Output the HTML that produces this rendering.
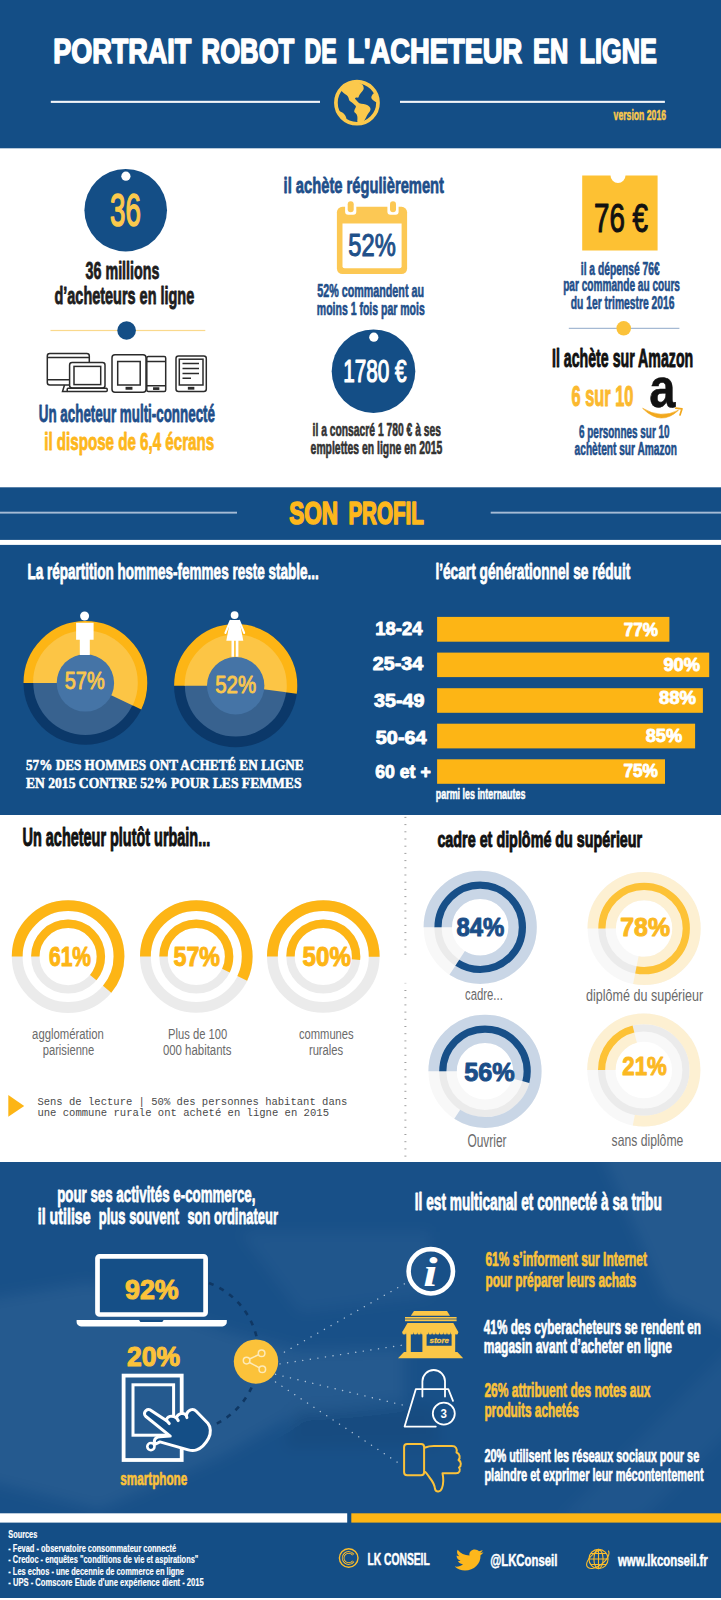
<!DOCTYPE html><html lang="fr"><head><meta charset="utf-8"><title>Portrait robot de l'acheteur en ligne</title>
<style>html,body{margin:0;padding:0;background:#fff}svg{display:block}</style></head><body>
<svg width="721" height="1600" viewBox="0 0 721 1600">
<rect x="0" y="0" width="721" height="1600" fill="#fff" />
<rect x="0" y="0" width="721" height="148.3" fill="#144e86" />
<text x="53.2" y="63.2" textLength="138.1" lengthAdjust="spacingAndGlyphs" font-size="35.5" fill="#fff" font-weight="bold" font-family='"Liberation Sans", sans-serif' stroke="#fff" stroke-width="1.7" stroke-linejoin="round" >PORTRAIT</text>
<text x="201.6" y="63.2" textLength="92.7" lengthAdjust="spacingAndGlyphs" font-size="35.5" fill="#fff" font-weight="bold" font-family='"Liberation Sans", sans-serif' stroke="#fff" stroke-width="1.7" stroke-linejoin="round" >ROBOT</text>
<text x="304.6" y="63.2" textLength="32.2" lengthAdjust="spacingAndGlyphs" font-size="35.5" fill="#fff" font-weight="bold" font-family='"Liberation Sans", sans-serif' stroke="#fff" stroke-width="1.7" stroke-linejoin="round" >DE</text>
<text x="347.4" y="63.2" textLength="174.9" lengthAdjust="spacingAndGlyphs" font-size="35.5" fill="#fff" font-weight="bold" font-family='"Liberation Sans", sans-serif' stroke="#fff" stroke-width="1.7" stroke-linejoin="round" >L'ACHETEUR</text>
<text x="533" y="63.2" textLength="35.2" lengthAdjust="spacingAndGlyphs" font-size="35.5" fill="#fff" font-weight="bold" font-family='"Liberation Sans", sans-serif' stroke="#fff" stroke-width="1.7" stroke-linejoin="round" >EN</text>
<text x="579.6" y="63.2" textLength="77.2" lengthAdjust="spacingAndGlyphs" font-size="35.5" fill="#fff" font-weight="bold" font-family='"Liberation Sans", sans-serif' stroke="#fff" stroke-width="1.7" stroke-linejoin="round" >LIGNE</text>
<rect x="50.8" y="100.8" width="269.2" height="2.1" fill="#f2f5f9" />
<rect x="400" y="100.8" width="264.9" height="2.1" fill="#f2f5f9" />
<text x="613.6" y="120.4" textLength="52.4" lengthAdjust="spacingAndGlyphs" font-size="15.2" fill="#fbc94c" font-weight="bold" font-family='"Liberation Sans", sans-serif' stroke="#fbc94c" stroke-width="0.55" stroke-linejoin="round" >version 2016</text>
<g id="globe">
<defs><clipPath id="gc"><circle cx="356.95" cy="102.7" r="21.5"/></clipPath></defs>
<circle cx="356.95" cy="102.7" r="21.05" fill="none" stroke="#fbc94c" stroke-width="3.7" />
<g clip-path="url(#gc)">
<path d="M342.0,91.5 Q340.3,89.6 342.0,86.7 Q343.6,83.8 347.8,82.4 Q352.0,80.9 357.0,82.2 Q361.9,83.4 362.9,85.3 Q363.8,87.1 363.7,88.6 Q363.6,90.1 362.1,91.5 Q360.7,93.0 359.9,94.3 Q359.0,95.6 358.7,96.8 Q358.4,98.0 357.1,97.5 Q355.7,97.1 355.2,98.0 Q354.6,98.8 355.9,99.8 Q357.1,100.9 358.1,102.2 Q359.0,103.6 361.3,103.7 Q363.6,103.8 365.7,104.4 Q367.8,105.0 369.2,106.5 Q370.7,107.9 370.5,109.4 Q370.3,110.9 368.6,113.1 Q366.9,115.4 365.9,117.7 Q364.9,120.0 363.0,121.9 Q361.1,123.7 359.0,123.3 Q357.0,122.9 357.3,120.4 Q357.6,117.9 357.2,116.1 Q356.8,114.2 355.4,113.1 Q354.0,112.1 354.2,110.9 Q354.5,109.6 355.4,108.0 Q356.3,106.4 355.6,105.7 Q354.9,105.0 353.4,103.7 Q352.0,102.3 350.5,101.4 Q349.0,100.5 348.9,99.2 Q348.8,98.0 347.9,96.5 Q347.0,95.0 345.3,94.2 Q343.6,93.4 342.0,91.5Z" fill="#fbc94c"/>
<path d="M377.7,97.5 Q377.7,91.7 375.7,92.3 Q373.6,93.0 372.5,94.4 Q371.5,95.9 371.3,97.1 Q371.1,98.4 372.3,99.6 Q373.6,100.9 375.7,102.1 Q377.7,103.4 377.7,97.5Z" fill="#fbc94c"/>
<path d="M339.1,115.2 Q337.0,110.0 338.2,110.6 Q339.5,111.3 341.4,112.1 Q343.2,112.9 344.5,114.4 Q345.7,115.8 346.3,117.9 Q346.8,120.0 344.0,120.2 Q341.1,120.4 339.1,115.2Z" fill="#fbc94c"/>
</g></g>
<circle cx="125.7" cy="210.2" r="41.3" fill="#144e86" />
<circle cx="125.9" cy="176.2" r="4.6" fill="#fff" />
<text x="110" y="225.8" textLength="30.8" lengthAdjust="spacingAndGlyphs" font-size="46" fill="#fbc94c" font-weight="normal" font-family='"Liberation Sans", sans-serif' stroke="#fbc94c" stroke-width="1.6" stroke-linejoin="round" >36</text>
<text x="85.6" y="279.2" textLength="73.8" lengthAdjust="spacingAndGlyphs" font-size="24" fill="#1d1d1d" font-weight="bold" font-family='"Liberation Sans", sans-serif' stroke="#1d1d1d" stroke-width="0.86" stroke-linejoin="round" >36 millions</text>
<text x="54.5" y="303.6" textLength="139.7" lengthAdjust="spacingAndGlyphs" font-size="24.5" fill="#1d1d1d" font-weight="bold" font-family='"Liberation Sans", sans-serif' stroke="#1d1d1d" stroke-width="0.88" stroke-linejoin="round" >d’acheteurs en ligne</text>
<rect x="50.5" y="329.9" width="154.8" height="1.2" fill="#fad98c" />
<circle cx="126.6" cy="330.5" r="9.3" fill="#144e86" />
<g fill="none" stroke="#2b2b2b" stroke-width="1.5">
<rect x="47.3" y="353.5" width="42" height="31.5" rx="2.5"/>
<path d="M47.3,357.6H89.3M47.3,379.7H69"/>
<path d="M64.5,385L62.5,391.5H68"/>
<rect x="69.6" y="362.5" width="35.4" height="25.5" rx="2.5" fill="#fff"/>
<rect x="74" y="366.4" width="26.7" height="18.2"/>
<rect x="67.2" y="388.2" width="40" height="3.4" rx="1" fill="#fff"/>
<rect x="112" y="354.7" width="34" height="37.6" rx="3"/>
<rect x="117.7" y="361.5" width="22.5" height="23.5"/>
<rect x="126.3" y="387.6" width="5.4" height="1.4"/>
<rect x="146.8" y="356.6" width="18.9" height="35" rx="1.5"/>
<path d="M146.8,361.5H165.7M146.8,385.8H165.7"/>
<rect x="153.8" y="388" width="4.8" height="1.2"/>
<rect x="176" y="356" width="30.3" height="35.6" rx="2.5"/>
<rect x="179.3" y="359.2" width="23.7" height="25.8"/>
<path d="M182.5,363.4H199M182.5,368.5H199M182.5,373.4H199M182.5,378.3H191"/>
<rect x="188.6" y="387.6" width="5" height="1.3"/>
</g>
<text x="38.8" y="422.3" textLength="176.2" lengthAdjust="spacingAndGlyphs" font-size="23" fill="#1f4f8a" font-weight="bold" font-family='"Liberation Sans", sans-serif' stroke="#1f4f8a" stroke-width="0.83" stroke-linejoin="round" >Un acheteur multi-connecté</text>
<text x="44.2" y="450.2" textLength="170.0" lengthAdjust="spacingAndGlyphs" font-size="23.5" fill="#fdb71c" font-weight="bold" font-family='"Liberation Sans", sans-serif' stroke="#fdb71c" stroke-width="0.85" stroke-linejoin="round" >il dispose de 6,4 écrans</text>
<text x="283.6" y="192.5" textLength="160.4" lengthAdjust="spacingAndGlyphs" font-size="22.8" fill="#1f4f8a" font-weight="bold" font-family='"Liberation Sans", sans-serif' stroke="#1f4f8a" stroke-width="0.82" stroke-linejoin="round" >il achète régulièrement</text>
<rect x="336.9" y="206.8" width="70.2" height="67.2" rx="5.5" fill="#fcc854"/>
<path d="M345.09999999999997,206H356.3V211.8A3,3 0 0 1 353.3,214.8H348.09999999999997A3,3 0 0 1 345.09999999999997,211.8Z" fill="#fff"/>
<rect x="347.7" y="201.2" width="6" height="11.1" rx="3" fill="#fcc854"/>
<path d="M387.4,206H398.6V211.8A3,3 0 0 1 395.6,214.8H390.4A3,3 0 0 1 387.4,211.8Z" fill="#fff"/>
<rect x="390" y="201.2" width="6" height="11.1" rx="3" fill="#fcc854"/>
<path d="M342.5,223.4H401.6V266.2A2,2 0 0 1 399.6,268.2H344.5A2,2 0 0 1 342.5,266.2Z" fill="#fff"/>
<text x="348.3" y="255.8" textLength="47.4" lengthAdjust="spacingAndGlyphs" font-size="31.5" fill="#1f5089" font-weight="normal" font-family='"Liberation Sans", sans-serif' stroke="#1f5089" stroke-width="1.1" stroke-linejoin="round" >52%</text>
<text x="317.2" y="297.4" textLength="106.8" lengthAdjust="spacingAndGlyphs" font-size="18.5" fill="#1f4f8a" font-weight="bold" font-family='"Liberation Sans", sans-serif' stroke="#1f4f8a" stroke-width="0.67" stroke-linejoin="round" >52% commandent au</text>
<text x="316.8" y="315.2" textLength="108.0" lengthAdjust="spacingAndGlyphs" font-size="18.5" fill="#1f4f8a" font-weight="bold" font-family='"Liberation Sans", sans-serif' stroke="#1f4f8a" stroke-width="0.67" stroke-linejoin="round" >moins 1 fois par mois</text>
<circle cx="373.5" cy="371.2" r="41.8" fill="#144e86" />
<circle cx="373.8" cy="337.2" r="4.6" fill="#fff" />
<text x="343.2" y="381.9" textLength="63.3" lengthAdjust="spacingAndGlyphs" font-size="30.5" fill="#fff" font-weight="normal" font-family='"Liberation Sans", sans-serif' stroke="#fff" stroke-width="1.2" stroke-linejoin="round" >1780 €</text>
<text x="312.6" y="435.8" textLength="128.4" lengthAdjust="spacingAndGlyphs" font-size="18.5" fill="#333" font-weight="bold" font-family='"Liberation Sans", sans-serif' stroke="#333" stroke-width="0.67" stroke-linejoin="round" >il a consacré 1 780 € à ses</text>
<text x="310.6" y="453.8" textLength="131.7" lengthAdjust="spacingAndGlyphs" font-size="18.5" fill="#333" font-weight="bold" font-family='"Liberation Sans", sans-serif' stroke="#333" stroke-width="0.67" stroke-linejoin="round" >emplettes en ligne en 2015</text>
<path d="M582.2,175.4H610.5A7.5,7.5 0 0 0 625.5,175.4H657.6V250.4H582.2Z" fill="#fdc133"/>
<text x="594" y="232.2" textLength="54" lengthAdjust="spacingAndGlyphs" font-size="40" fill="#111" font-weight="normal" font-family='"Liberation Sans", sans-serif' stroke="#111" stroke-width="1.1" stroke-linejoin="round" >76 €</text>
<text x="580.8" y="274.6" textLength="78.8" lengthAdjust="spacingAndGlyphs" font-size="17.6" fill="#1f4f8a" font-weight="bold" font-family='"Liberation Sans", sans-serif' stroke="#1f4f8a" stroke-width="0.63" stroke-linejoin="round" >il a dépensé 76€</text>
<text x="563.2" y="291.3" textLength="116.8" lengthAdjust="spacingAndGlyphs" font-size="17.6" fill="#1f4f8a" font-weight="bold" font-family='"Liberation Sans", sans-serif' stroke="#1f4f8a" stroke-width="0.63" stroke-linejoin="round" >par commande au cours</text>
<text x="570.8" y="308.6" textLength="103.7" lengthAdjust="spacingAndGlyphs" font-size="17.6" fill="#1f4f8a" font-weight="bold" font-family='"Liberation Sans", sans-serif' stroke="#1f4f8a" stroke-width="0.63" stroke-linejoin="round" >du 1er trimestre 2016</text>
<rect x="568.8" y="327.8" width="110.6" height="1" fill="#8fa9c9" />
<circle cx="623.7" cy="328.3" r="7.3" fill="#fbc23a" />
<text x="552" y="366.8" textLength="141.2" lengthAdjust="spacingAndGlyphs" font-size="25" fill="#111" font-weight="bold" font-family='"Liberation Sans", sans-serif' stroke="#111" stroke-width="0.9" stroke-linejoin="round" >Il achète sur Amazon</text>
<text x="571.5" y="405.8" textLength="61.9" lengthAdjust="spacingAndGlyphs" font-size="29" fill="#fbb92f" font-weight="bold" font-family='"Liberation Sans", sans-serif' stroke="#fbb92f" stroke-width="1.04" stroke-linejoin="round" >6 sur 10</text>
<text x="649.2" y="407" textLength="26.2" lengthAdjust="spacingAndGlyphs" font-size="56" fill="#111" font-weight="bold" font-family='"Liberation Sans", sans-serif' stroke="#111" stroke-width="0.6" stroke-linejoin="round" >a</text>
<path d="M642.6,408.3 Q661,419.3 678.5,410.2 Q661,426.8 642.6,408.3Z" fill="#f2a81d" stroke="#f2a81d" stroke-width="0.6" stroke-linejoin="round"/>
<path d="M675.8,408.2 L682,408.8 L680,415" fill="none" stroke="#f2a81d" stroke-width="1.7" stroke-linejoin="round" stroke-linecap="round"/>
<text x="579" y="437.5" textLength="90.6" lengthAdjust="spacingAndGlyphs" font-size="17.6" fill="#1f4f8a" font-weight="bold" font-family='"Liberation Sans", sans-serif' stroke="#1f4f8a" stroke-width="0.63" stroke-linejoin="round" >6 personnes sur 10</text>
<text x="574.6" y="455.2" textLength="102.4" lengthAdjust="spacingAndGlyphs" font-size="17.6" fill="#1f4f8a" font-weight="bold" font-family='"Liberation Sans", sans-serif' stroke="#1f4f8a" stroke-width="0.63" stroke-linejoin="round" >achètent sur Amazon</text>
<rect x="0" y="487.3" width="721" height="52.6" fill="#144e86" />
<rect x="0" y="544.9" width="721" height="270.1" fill="#144e86" />
<rect x="0" y="511.7" width="237" height="1.9" fill="#a6bbd5" />
<rect x="490.7" y="511.7" width="230.3" height="1.9" fill="#a6bbd5" />
<text x="289.2" y="524.4" textLength="48.8" lengthAdjust="spacingAndGlyphs" font-size="31" fill="#fdb71c" font-weight="bold" font-family='"Liberation Sans", sans-serif' stroke="#fdb71c" stroke-width="1.7" stroke-linejoin="round" >SON</text>
<text x="348.4" y="524.4" textLength="75.4" lengthAdjust="spacingAndGlyphs" font-size="31" fill="#fdb71c" font-weight="bold" font-family='"Liberation Sans", sans-serif' stroke="#fdb71c" stroke-width="1.7" stroke-linejoin="round" >PROFIL</text>
<text x="27.4" y="578.7" textLength="291.4" lengthAdjust="spacingAndGlyphs" font-size="22.7" fill="#fff" font-weight="bold" font-family='"Liberation Sans", sans-serif' stroke="#fff" stroke-width="0.82" stroke-linejoin="round" >La répartition hommes-femmes reste stable...</text>
<text x="435.4" y="578.6" textLength="194.9" lengthAdjust="spacingAndGlyphs" font-size="21.6" fill="#fff" font-weight="bold" font-family='"Liberation Sans", sans-serif' stroke="#fff" stroke-width="0.78" stroke-linejoin="round" >l’écart générationnel se réduit</text>
<circle cx="85.4" cy="682.9" r="61.9" fill="#0b3869" />
<circle cx="85.4" cy="682.9" r="52.1" fill="#38628f" />
<circle cx="85.4" cy="682.9" r="56.75" fill="none" stroke="#fdb515" stroke-width="10.299999999999997" stroke-dasharray="203.25 356.57" transform="rotate(180 85.4 682.9)" />
<circle cx="85.4" cy="682.9" r="40.199999999999996" fill="none" stroke="#fcc545" stroke-width="24.4" stroke-dasharray="143.97 252.58" transform="rotate(180 85.4 682.9)" />
<circle cx="85.4" cy="682.9" r="28.7" fill="#4574a6" />
<circle cx="235.7" cy="685.7" r="61.6" fill="#0b3869" />
<circle cx="235.7" cy="685.7" r="50.8" fill="#38628f" />
<circle cx="235.7" cy="685.7" r="55.95" fill="none" stroke="#fdb515" stroke-width="11.300000000000004" stroke-dasharray="182.80 351.54" transform="rotate(180 235.7 685.7)" />
<circle cx="235.7" cy="685.7" r="39.55" fill="none" stroke="#fcc545" stroke-width="23.099999999999994" stroke-dasharray="129.22 248.50" transform="rotate(180 235.7 685.7)" />
<circle cx="235.7" cy="685.7" r="28.7" fill="#4574a6" />
<text x="64.8" y="689" textLength="39.8" lengthAdjust="spacingAndGlyphs" font-size="24" fill="#f9c74f" font-weight="normal" font-family='"Liberation Sans", sans-serif' stroke="#f9c74f" stroke-width="0.9" stroke-linejoin="round" >57%</text>
<text x="215.2" y="693" textLength="40.9" lengthAdjust="spacingAndGlyphs" font-size="24" fill="#f9c74f" font-weight="normal" font-family='"Liberation Sans", sans-serif' stroke="#f9c74f" stroke-width="0.9" stroke-linejoin="round" >52%</text>
<circle cx="84.6" cy="616" r="4.5" fill="#fff" />
<path d="M76.1,622.7H93.6V639.7H89.8V655H79.8V639.7H76.1Z" fill="#fff"/>
<circle cx="234.6" cy="615.1" r="3.9" fill="#fff" />
<path d="M230.2,619.9H239.4L243.3,640.7H226.3Z" fill="#fff"/>
<path d="M230.4,620.9L225.4,633M239.2,620.9L244.2,633" stroke="#fff" stroke-width="2" stroke-linecap="round"/>
<path d="M231.5,640H234V656.7H231.5ZM235.8,640H238.4V656.7H235.8Z" fill="#fff"/>
<text x="26" y="770" textLength="277.5" lengthAdjust="spacingAndGlyphs" font-size="14.5" fill="#fff" font-weight="bold" font-family='"Liberation Serif", serif' stroke="#fff" stroke-width="0.52" stroke-linejoin="round" >57% DES HOMMES ONT ACHETÉ EN LIGNE</text>
<text x="26" y="787.5" textLength="275.5" lengthAdjust="spacingAndGlyphs" font-size="14.5" fill="#fff" font-weight="bold" font-family='"Liberation Serif", serif' stroke="#fff" stroke-width="0.52" stroke-linejoin="round" >EN 2015 CONTRE 52% POUR LES FEMMES</text>
<text x="375.3" y="635" textLength="47.1" lengthAdjust="spacingAndGlyphs" font-size="18.8" fill="#fff" font-weight="bold" font-family='"Liberation Sans", sans-serif' stroke="#fff" stroke-width="0.9" stroke-linejoin="round" >18-24</text>
<rect x="437.1" y="616.9" width="232.3" height="24.8" fill="#fdb515" />
<text x="623.8" y="635.8" textLength="34.2" lengthAdjust="spacingAndGlyphs" font-size="18.8" fill="#fff" font-weight="bold" font-family='"Liberation Sans", sans-serif' stroke="#fff" stroke-width="0.9" stroke-linejoin="round" >77%</text>
<text x="372.8" y="669.6" textLength="50.4" lengthAdjust="spacingAndGlyphs" font-size="18.8" fill="#fff" font-weight="bold" font-family='"Liberation Sans", sans-serif' stroke="#fff" stroke-width="0.9" stroke-linejoin="round" >25-34</text>
<rect x="437.1" y="652.6" width="272.1" height="24.5" fill="#fdb515" />
<text x="663.4" y="671.2" textLength="36.6" lengthAdjust="spacingAndGlyphs" font-size="18.8" fill="#fff" font-weight="bold" font-family='"Liberation Sans", sans-serif' stroke="#fff" stroke-width="0.9" stroke-linejoin="round" >90%</text>
<text x="374" y="706.8" textLength="50.4" lengthAdjust="spacingAndGlyphs" font-size="18.8" fill="#fff" font-weight="bold" font-family='"Liberation Sans", sans-serif' stroke="#fff" stroke-width="0.9" stroke-linejoin="round" >35-49</text>
<rect x="437.1" y="688.2" width="265.8" height="24.6" fill="#fdb515" />
<text x="659" y="704.4" textLength="37" lengthAdjust="spacingAndGlyphs" font-size="18.8" fill="#fff" font-weight="bold" font-family='"Liberation Sans", sans-serif' stroke="#fff" stroke-width="0.9" stroke-linejoin="round" >88%</text>
<text x="375.8" y="743.7" textLength="50.8" lengthAdjust="spacingAndGlyphs" font-size="18.8" fill="#fff" font-weight="bold" font-family='"Liberation Sans", sans-serif' stroke="#fff" stroke-width="0.9" stroke-linejoin="round" >50-64</text>
<rect x="437.1" y="723.7" width="258.0" height="24.7" fill="#fdb515" />
<text x="645.7" y="741.7" textLength="36.5" lengthAdjust="spacingAndGlyphs" font-size="18.8" fill="#fff" font-weight="bold" font-family='"Liberation Sans", sans-serif' stroke="#fff" stroke-width="0.9" stroke-linejoin="round" >85%</text>
<text x="375.3" y="778.4" textLength="55.4" lengthAdjust="spacingAndGlyphs" font-size="18.8" fill="#fff" font-weight="bold" font-family='"Liberation Sans", sans-serif' stroke="#fff" stroke-width="0.9" stroke-linejoin="round" >60 et +</text>
<rect x="437.1" y="759.3" width="227.9" height="24.5" fill="#fdb515" />
<text x="623.4" y="777.4" textLength="34.6" lengthAdjust="spacingAndGlyphs" font-size="18.8" fill="#fff" font-weight="bold" font-family='"Liberation Sans", sans-serif' stroke="#fff" stroke-width="0.9" stroke-linejoin="round" >75%</text>
<text x="435.8" y="799.2" textLength="89.6" lengthAdjust="spacingAndGlyphs" font-size="13.8" fill="#fff" font-weight="bold" font-family='"Liberation Sans", sans-serif' stroke="#fff" stroke-width="0.5" stroke-linejoin="round" >parmi les internautes</text>
<text x="22.6" y="845.6" textLength="187.6" lengthAdjust="spacingAndGlyphs" font-size="25" fill="#111" font-weight="bold" font-family='"Liberation Sans", sans-serif' stroke="#111" stroke-width="1.0" stroke-linejoin="round" >Un acheteur plutôt urbain...</text>
<text x="437.4" y="846.8" textLength="204.8" lengthAdjust="spacingAndGlyphs" font-size="22.8" fill="#111" font-weight="bold" font-family='"Liberation Sans", sans-serif' stroke="#111" stroke-width="1.0" stroke-linejoin="round" >cadre et diplômé du supérieur</text>
<rect x="404.4" y="816.9" width="2" height="1" fill="#a0a0a0" />
<rect x="404.4" y="824.1" width="2" height="1" fill="#a0a0a0" />
<rect x="404.4" y="831.3" width="2" height="1" fill="#a0a0a0" />
<rect x="404.4" y="838.5" width="2" height="1" fill="#a0a0a0" />
<rect x="404.4" y="845.7" width="2" height="1" fill="#a0a0a0" />
<rect x="404.4" y="852.9" width="2" height="1" fill="#a0a0a0" />
<rect x="404.4" y="860.1" width="2" height="1" fill="#a0a0a0" />
<rect x="404.4" y="867.3" width="2" height="1" fill="#a0a0a0" />
<rect x="404.4" y="874.5" width="2" height="1" fill="#a0a0a0" />
<rect x="404.4" y="881.7" width="2" height="1" fill="#a0a0a0" />
<rect x="404.4" y="888.9" width="2" height="1" fill="#a0a0a0" />
<rect x="404.4" y="896.1" width="2" height="1" fill="#a0a0a0" />
<rect x="404.4" y="903.3" width="2" height="1" fill="#a0a0a0" />
<rect x="404.4" y="910.5" width="2" height="1" fill="#a0a0a0" />
<rect x="404.4" y="917.7" width="2" height="1" fill="#a0a0a0" />
<rect x="404.4" y="924.9" width="2" height="1" fill="#a0a0a0" />
<rect x="404.4" y="932.1" width="2" height="1" fill="#a0a0a0" />
<rect x="404.4" y="939.3" width="2" height="1" fill="#a0a0a0" />
<rect x="404.4" y="946.5" width="2" height="1" fill="#a0a0a0" />
<rect x="404.4" y="953.7" width="2" height="1" fill="#a0a0a0" />
<rect x="404.4" y="982.8" width="2" height="1" fill="#d8d8d8" />
<rect x="404.4" y="990.0" width="2" height="1" fill="#a0a0a0" />
<rect x="404.4" y="997.2" width="2" height="1" fill="#a0a0a0" />
<rect x="404.4" y="1004.4" width="2" height="1" fill="#a0a0a0" />
<rect x="404.4" y="1011.6" width="2" height="1" fill="#a0a0a0" />
<rect x="404.4" y="1018.8" width="2" height="1" fill="#a0a0a0" />
<rect x="404.4" y="1026.0" width="2" height="1" fill="#a0a0a0" />
<rect x="404.4" y="1033.2" width="2" height="1" fill="#a0a0a0" />
<rect x="404.4" y="1040.4" width="2" height="1" fill="#a0a0a0" />
<rect x="404.4" y="1047.6" width="2" height="1" fill="#a0a0a0" />
<rect x="404.4" y="1054.8" width="2" height="1" fill="#a0a0a0" />
<rect x="404.4" y="1062.0" width="2" height="1" fill="#a0a0a0" />
<rect x="404.4" y="1069.2" width="2" height="1" fill="#a0a0a0" />
<rect x="404.4" y="1076.4" width="2" height="1" fill="#a0a0a0" />
<rect x="404.4" y="1083.6" width="2" height="1" fill="#a0a0a0" />
<rect x="404.4" y="1090.8" width="2" height="1" fill="#a0a0a0" />
<rect x="404.4" y="1098.0" width="2" height="1" fill="#a0a0a0" />
<rect x="404.4" y="1105.2" width="2" height="1" fill="#a0a0a0" />
<rect x="404.4" y="1112.4" width="2" height="1" fill="#a0a0a0" />
<rect x="404.4" y="1119.6" width="2" height="1" fill="#a0a0a0" />
<rect x="404.4" y="1126.8" width="2" height="1" fill="#a0a0a0" />
<rect x="404.4" y="1134.0" width="2" height="1" fill="#a0a0a0" />
<rect x="404.4" y="1141.2" width="2" height="1" fill="#a0a0a0" />
<rect x="404.4" y="1148.4" width="2" height="1" fill="#a0a0a0" />
<rect x="404.4" y="1155.6" width="2" height="1" fill="#a0a0a0" />
<circle cx="68.1" cy="956.6" r="50.9" fill="none" stroke="#ebebeb" stroke-width="10.8" />
<circle cx="68.1" cy="956.6" r="32.8" fill="none" stroke="#ebebeb" stroke-width="8.4" />
<circle cx="68.1" cy="956.6" r="50.9" fill="none" stroke="#fdb515" stroke-width="10.8" stroke-dasharray="195.09 319.81" transform="rotate(180 68.1 956.6)" />
<circle cx="68.1" cy="956.6" r="32.8" fill="none" stroke="#fdb515" stroke-width="8.4" stroke-dasharray="125.71 206.09" transform="rotate(180 68.1 956.6)" />
<circle cx="196.3" cy="956.5" r="50.9" fill="none" stroke="#ebebeb" stroke-width="10.8" />
<circle cx="196.3" cy="956.5" r="32.8" fill="none" stroke="#ebebeb" stroke-width="8.4" />
<circle cx="196.3" cy="956.5" r="50.9" fill="none" stroke="#fdb515" stroke-width="10.8" stroke-dasharray="182.29 319.81" transform="rotate(180 196.3 956.5)" />
<circle cx="196.3" cy="956.5" r="32.8" fill="none" stroke="#fdb515" stroke-width="8.4" stroke-dasharray="117.47 206.09" transform="rotate(180 196.3 956.5)" />
<circle cx="323.3" cy="956.5" r="50.9" fill="none" stroke="#ebebeb" stroke-width="10.8" />
<circle cx="323.3" cy="956.5" r="32.8" fill="none" stroke="#ebebeb" stroke-width="8.4" />
<circle cx="323.3" cy="956.5" r="50.9" fill="none" stroke="#fdb515" stroke-width="10.8" stroke-dasharray="159.91 319.81" transform="rotate(180 323.3 956.5)" />
<circle cx="323.3" cy="956.5" r="32.8" fill="none" stroke="#fdb515" stroke-width="8.4" stroke-dasharray="106.14 206.09" transform="rotate(180 323.3 956.5)" />
<text x="49" y="966.3" textLength="42" lengthAdjust="spacingAndGlyphs" font-size="27" fill="#fdb515" font-weight="bold" font-family='"Liberation Sans", sans-serif' stroke="#fdb515" stroke-width="1.0" stroke-linejoin="round" >61%</text>
<text x="173.5" y="966.4" textLength="46.5" lengthAdjust="spacingAndGlyphs" font-size="27" fill="#fdb515" font-weight="bold" font-family='"Liberation Sans", sans-serif' stroke="#fdb515" stroke-width="1.0" stroke-linejoin="round" >57%</text>
<text x="302.6" y="966.4" textLength="48.2" lengthAdjust="spacingAndGlyphs" font-size="27" fill="#fdb515" font-weight="bold" font-family='"Liberation Sans", sans-serif' stroke="#fdb515" stroke-width="1.0" stroke-linejoin="round" >50%</text>
<text x="32.1" y="1039" textLength="71.7" lengthAdjust="spacingAndGlyphs" font-size="15.5" fill="#6a6a6a" font-weight="normal" font-family='"Liberation Sans", sans-serif'  >agglomération</text>
<text x="42.7" y="1055.4" textLength="51.6" lengthAdjust="spacingAndGlyphs" font-size="15.5" fill="#6a6a6a" font-weight="normal" font-family='"Liberation Sans", sans-serif'  >parisienne</text>
<text x="168.1" y="1039" textLength="59.1" lengthAdjust="spacingAndGlyphs" font-size="15.5" fill="#6a6a6a" font-weight="normal" font-family='"Liberation Sans", sans-serif'  >Plus de 100</text>
<text x="162.9" y="1055.4" textLength="68.5" lengthAdjust="spacingAndGlyphs" font-size="15.5" fill="#6a6a6a" font-weight="normal" font-family='"Liberation Sans", sans-serif'  >000 habitants</text>
<text x="298.9" y="1039" textLength="54.8" lengthAdjust="spacingAndGlyphs" font-size="15.5" fill="#6a6a6a" font-weight="normal" font-family='"Liberation Sans", sans-serif'  >communes</text>
<text x="308.9" y="1055.4" textLength="34.3" lengthAdjust="spacingAndGlyphs" font-size="15.5" fill="#6a6a6a" font-weight="normal" font-family='"Liberation Sans", sans-serif'  >rurales</text>
<path d="M8.3,1095L24.2,1106L8.3,1116.8Z" fill="#fdb515"/>
<text x="37.4" y="1104.6" textLength="310.0" lengthAdjust="spacingAndGlyphs" font-size="10.5" fill="#4a4a4a" font-weight="normal" font-family='"Liberation Mono", monospace'  >Sens de lecture | 50% des personnes habitant dans</text>
<text x="37.4" y="1116.2" textLength="291.6" lengthAdjust="spacingAndGlyphs" font-size="10.5" fill="#4a4a4a" font-weight="normal" font-family='"Liberation Mono", monospace'  >une commune rurale ont acheté en ligne en 2015</text>
<circle cx="480.2" cy="927.3" r="42.4" fill="none" stroke="#f8f8f8" stroke-width="28.2" />
<circle cx="480.2" cy="927.3" r="42.2" fill="none" stroke="#ebebeb" stroke-width="7.2" />
<circle cx="480.2" cy="927.3" r="51.15" fill="none" stroke="#c9d6e6" stroke-width="10.9" stroke-dasharray="269.96 321.38" transform="rotate(180 480.2 927.3)" />
<circle cx="480.2" cy="927.3" r="37.05" fill="none" stroke="#c9d6e6" stroke-width="17.7" stroke-dasharray="195.55 232.79" transform="rotate(180 480.2 927.3)" />
<circle cx="480.2" cy="927.3" r="42.2" fill="none" stroke="#174f88" stroke-width="7.2" stroke-dasharray="222.73 265.15" transform="rotate(180 480.2 927.3)" />
<circle cx="644.1" cy="928.5" r="42.4" fill="none" stroke="#f8f8f8" stroke-width="28.2" />
<circle cx="644.1" cy="928.5" r="42.2" fill="none" stroke="#ebebeb" stroke-width="7.2" />
<circle cx="644.1" cy="928.5" r="51.15" fill="none" stroke="#fdf0d2" stroke-width="10.9" stroke-dasharray="250.68 321.38" transform="rotate(180 644.1 928.5)" />
<circle cx="644.1" cy="928.5" r="37.05" fill="none" stroke="#fdf0d2" stroke-width="17.7" stroke-dasharray="181.58 232.79" transform="rotate(180 644.1 928.5)" />
<circle cx="644.1" cy="928.5" r="42.2" fill="none" stroke="#fdc236" stroke-width="7.2" stroke-dasharray="206.82 265.15" transform="rotate(180 644.1 928.5)" />
<circle cx="485" cy="1071.3" r="42.4" fill="none" stroke="#f8f8f8" stroke-width="28.2" />
<circle cx="485" cy="1071.3" r="42.2" fill="none" stroke="#ebebeb" stroke-width="7.2" />
<circle cx="485" cy="1071.3" r="51.15" fill="none" stroke="#c9d6e6" stroke-width="10.9" stroke-dasharray="269.96 321.38" transform="rotate(180 485 1071.3)" />
<circle cx="485" cy="1071.3" r="37.05" fill="none" stroke="#c9d6e6" stroke-width="17.7" stroke-dasharray="125.71 232.79" transform="rotate(180 485 1071.3)" />
<circle cx="485" cy="1071.3" r="42.2" fill="none" stroke="#174f88" stroke-width="7.2" stroke-dasharray="143.18 265.15" transform="rotate(180 485 1071.3)" />
<circle cx="643.8" cy="1070" r="42.4" fill="none" stroke="#f8f8f8" stroke-width="28.2" />
<circle cx="643.8" cy="1070" r="42.2" fill="none" stroke="#ebebeb" stroke-width="7.2" />
<circle cx="643.8" cy="1070" r="51.15" fill="none" stroke="#fdf0d2" stroke-width="10.9" stroke-dasharray="250.68 321.38" transform="rotate(180 643.8 1070)" />
<circle cx="643.8" cy="1070" r="37.05" fill="none" stroke="#fdf0d2" stroke-width="17.7" stroke-dasharray="48.89 232.79" transform="rotate(180 643.8 1070)" />
<circle cx="643.8" cy="1070" r="42.2" fill="none" stroke="#fdc236" stroke-width="7.2" stroke-dasharray="55.68 265.15" transform="rotate(180 643.8 1070)" />
<text x="456.4" y="935.8" textLength="47.9" lengthAdjust="spacingAndGlyphs" font-size="26" fill="#1b4e88" font-weight="bold" font-family='"Liberation Sans", sans-serif' stroke="#1b4e88" stroke-width="1.0" stroke-linejoin="round" >84%</text>
<text x="620.3" y="936.3" textLength="49.7" lengthAdjust="spacingAndGlyphs" font-size="26" fill="#fbb822" font-weight="bold" font-family='"Liberation Sans", sans-serif' stroke="#fbb822" stroke-width="1.0" stroke-linejoin="round" >78%</text>
<text x="464.2" y="1081.4" textLength="50.4" lengthAdjust="spacingAndGlyphs" font-size="26.5" fill="#1b4e88" font-weight="bold" font-family='"Liberation Sans", sans-serif' stroke="#1b4e88" stroke-width="1.0" stroke-linejoin="round" >56%</text>
<text x="622.3" y="1074.9" textLength="44.5" lengthAdjust="spacingAndGlyphs" font-size="26.5" fill="#fbb822" font-weight="bold" font-family='"Liberation Sans", sans-serif' stroke="#fbb822" stroke-width="1.0" stroke-linejoin="round" >21%</text>
<text x="465" y="1000" textLength="37.8" lengthAdjust="spacingAndGlyphs" font-size="16.7" fill="#6a6a6a" font-weight="normal" font-family='"Liberation Sans", sans-serif'  >cadre...</text>
<text x="586.1" y="1000.7" textLength="117.1" lengthAdjust="spacingAndGlyphs" font-size="16.7" fill="#6a6a6a" font-weight="normal" font-family='"Liberation Sans", sans-serif'  >diplômé du supérieur</text>
<text x="467.4" y="1147.3" textLength="39.1" lengthAdjust="spacingAndGlyphs" font-size="17.5" fill="#6a6a6a" font-weight="normal" font-family='"Liberation Sans", sans-serif'  >Ouvrier</text>
<text x="611.6" y="1145.6" textLength="71.7" lengthAdjust="spacingAndGlyphs" font-size="16.5" fill="#6a6a6a" font-weight="normal" font-family='"Liberation Sans", sans-serif'  >sans diplôme</text>
<rect x="0" y="1162" width="721" height="436" fill="#144e86" />
<rect x="0" y="1162" width="721" height="351.3" fill="#185088" />
<defs><filter id="bl" x="-20%" y="-20%" width="140%" height="140%"><feGaussianBlur stdDeviation="7"/></filter><clipPath id="s4"><rect x="0" y="1161.6" width="721" height="351.7"/></clipPath></defs>
<g id="bgtex" clip-path="url(#s4)"><g filter="url(#bl)">
<path d="M-20,1300L90,1282L230,1332L300,1350L405,1348L405,1400L300,1412L225,1455L100,1510L-20,1480Z" fill="#fff" fill-opacity="0.055"/>
<path d="M600,1150L740,1150L740,1335L665,1300Z" fill="#fff" fill-opacity="0.05"/>
<path d="M240,1232L430,1232L430,1296L300,1312Z" fill="#fff" fill-opacity="0.035"/>
<path d="M295,1408L435,1404L440,1446L285,1448Z" fill="#000" fill-opacity="0.06"/>
<path d="M560,1520L740,1340L740,1420L640,1520Z" fill="#fff" fill-opacity="0.03"/>
</g></g>
<text x="57.2" y="1201.6" textLength="198.2" lengthAdjust="spacingAndGlyphs" font-size="21.2" fill="#fff" font-weight="bold" font-family='"Liberation Sans", sans-serif' stroke="#fff" stroke-width="0.76" stroke-linejoin="round" >pour ses activités e-commerce,</text>
<text x="37.8" y="1223.5" textLength="52.8" lengthAdjust="spacingAndGlyphs" font-size="21.2" fill="#fff" font-weight="bold" font-family='"Liberation Sans", sans-serif' stroke="#fff" stroke-width="0.76" stroke-linejoin="round" >il utilise</text>
<text x="98.8" y="1223.5" textLength="80.2" lengthAdjust="spacingAndGlyphs" font-size="21.2" fill="#fff" font-weight="bold" font-family='"Liberation Sans", sans-serif' stroke="#fff" stroke-width="0.76" stroke-linejoin="round" >plus souvent</text>
<text x="187.4" y="1223.5" textLength="90.6" lengthAdjust="spacingAndGlyphs" font-size="21.2" fill="#fff" font-weight="bold" font-family='"Liberation Sans", sans-serif' stroke="#fff" stroke-width="0.76" stroke-linejoin="round" >son ordinateur</text>
<text x="414.8" y="1209.8" textLength="247.0" lengthAdjust="spacingAndGlyphs" font-size="23" fill="#fff" font-weight="bold" font-family='"Liberation Sans", sans-serif' stroke="#fff" stroke-width="0.83" stroke-linejoin="round" >Il est multicanal et connecté à sa tribu</text>
<path d="M209,1283 A77,77 0 0 1 216,1424" fill="none" stroke="#0f3763" stroke-width="2.6" stroke-dasharray="5 6.5"/>
<g stroke="#e6edf5" stroke-opacity="0.7" stroke-width="1.4" stroke-dasharray="0.1 7.56" stroke-linecap="round" fill="none">
<path d="M284.4,1352.1L406,1283"/><path d="M280,1363.9L404,1344.9"/><path d="M275.5,1374.3L405,1405.6"/><path d="M275.5,1382L400,1464"/>
</g>
<rect x="97.5" y="1256.3" width="108.1" height="58.2" rx="2" fill="#154f87" stroke="#fff" stroke-width="4.7"/>
<path d="M76.6,1320H226.8V1322A4.4,4.4 0 0 1 222.4,1326.4H81A4.4,4.4 0 0 1 76.6,1322Z" fill="#fff"/>
<path d="M138.9,1319.8H163.8L162.3,1322H140.4Z" fill="#144e86"/>
<text x="125" y="1299.4" textLength="53.6" lengthAdjust="spacingAndGlyphs" font-size="28" fill="#fbc23a" font-weight="bold" font-family='"Liberation Sans", sans-serif' stroke="#fbc23a" stroke-width="1.1" stroke-linejoin="round" >92%</text>
<text x="127" y="1365.6" textLength="53" lengthAdjust="spacingAndGlyphs" font-size="28.5" fill="#fbc23a" font-weight="bold" font-family='"Liberation Sans", sans-serif' stroke="#fbc23a" stroke-width="1.1" stroke-linejoin="round" >20%</text>
<rect x="123.6" y="1375.6" width="58.1" height="84.4" fill="none" stroke="#fff" stroke-width="3.8"/>
<rect x="133" y="1384.8" width="40.6" height="50.4" fill="none" stroke="#fff" stroke-width="3"/>
<path d="M 144.62,1414.27 C 143.95,1411.60 146.95,1408.61 150.28,1409.94 L 166.26,1420.59 C 166.92,1416.26 171.92,1414.60 176.25,1417.93 C 177.91,1413.27 183.24,1411.94 186.23,1415.27 C 187.90,1409.61 192.89,1407.94 196.22,1411.27 L 207.87,1423.26 C 210.87,1426.92 211.20,1433.24 208.54,1438.24 C 205.87,1443.23 201.21,1448.22 196.55,1449.89 C 194.05,1450.89 191.56,1450.89 188.23,1449.89 L 159.93,1441.90 L 155.27,1444.23 L 154.27,1441.23 C 154.61,1438.57 156.94,1437.07 159.93,1436.74 L 170.25,1436.07 L 145.62,1416.26 C 144.95,1415.60 144.62,1414.93 144.62,1414.27 Z" fill="#144e86" stroke="#fff" stroke-width="3" stroke-linejoin="round"/>
<path d="M 166.59,1420.59 L 169.25,1423.59 M 176.58,1417.93 L 178.24,1420.59 M 186.23,1415.60 L 186.90,1417.60" stroke="#fff" stroke-width="3" stroke-linecap="round" fill="none"/>
<circle cx="150.9" cy="1446.6" r="3.6" fill="#144e86" stroke="#fff" stroke-width="2.6"/>
<text x="120.3" y="1485.2" textLength="66.9" lengthAdjust="spacingAndGlyphs" font-size="19.2" fill="#fbc23a" font-weight="bold" font-family='"Liberation Sans", sans-serif' stroke="#fbc23a" stroke-width="0.69" stroke-linejoin="round" >smartphone</text>
<circle cx="256" cy="1361.6" r="22.2" fill="#fbc23a" />
<g fill="none" stroke="#fdeab8" stroke-width="1.5"><path d="M249.5,1359L258.5,1354.8M249.5,1362.5L259,1367.6"/><circle cx="246.6" cy="1360.6" r="3.3"/><circle cx="261.6" cy="1353.3" r="3.3"/><circle cx="262.3" cy="1369.3" r="3.3"/></g>
<circle cx="430.8" cy="1271.3" r="22.2" fill="none" stroke="#fff" stroke-width="4.6" />
<text x="423.2" y="1285.6" textLength="14.2" lengthAdjust="spacingAndGlyphs" font-size="42" fill="#fff" font-weight="bold" font-family='"Liberation Serif", serif'  font-style="italic">i</text>
<g fill="#fbc748">
<path d="M414,1311H447L450,1315.7H410.8Z"/>
<rect x="405" y="1317" width="51.6" height="1.6"/><rect x="405" y="1319.4" width="51.6" height="1.8"/>
<path d="M407.5,1323H453.3L458.6,1332.6H402Z"/>
<path d="M406.3,1332H410.8V1352H422.4V1332H426.6V1345.7H451.6V1332H455.2V1352H406.3Z"/>
<circle cx="404.20" cy="1332.7" r="1.86"/>
<circle cx="407.92" cy="1332.7" r="1.86"/>
<circle cx="411.64" cy="1332.7" r="1.86"/>
<circle cx="415.36" cy="1332.7" r="1.86"/>
<circle cx="419.08" cy="1332.7" r="1.86"/>
<circle cx="422.80" cy="1332.7" r="1.86"/>
<circle cx="426.52" cy="1332.7" r="1.86"/>
<circle cx="430.24" cy="1332.7" r="1.86"/>
<circle cx="433.96" cy="1332.7" r="1.86"/>
<circle cx="437.68" cy="1332.7" r="1.86"/>
<circle cx="441.40" cy="1332.7" r="1.86"/>
<circle cx="445.12" cy="1332.7" r="1.86"/>
<circle cx="448.84" cy="1332.7" r="1.86"/>
<circle cx="452.56" cy="1332.7" r="1.86"/>
<circle cx="456.28" cy="1332.7" r="1.86"/>
<path d="M404,1352H457.4L463.2,1358.2H398Z"/>
</g>
<text x="429.5" y="1342.8" textLength="19.5" lengthAdjust="spacingAndGlyphs" font-size="7.5" fill="#fbc748" font-weight="bold" font-family='"Liberation Sans", sans-serif' stroke="#fbc748" stroke-width="0.27" stroke-linejoin="round" font-style="italic">store</text>
<g fill="none" stroke="#fff" stroke-width="1.8" stroke-linecap="round" stroke-linejoin="round">
<path d="M422.4,1396.6V1381.3A11.3,11.3 0 0 1 445,1381.3V1396.6"/>
<path d="M453,1400.8L448.3,1389.2H415.8L404.6,1426.6H435.8"/>
<circle cx="443.8" cy="1413.6" r="11"/>
</g>
<text x="440.6" y="1418.2" textLength="6.4" lengthAdjust="spacingAndGlyphs" font-size="13" fill="#fff" font-weight="bold" font-family='"Liberation Sans", sans-serif'  >3</text>
<g fill="none" stroke="#fbc23a" stroke-width="2" stroke-linejoin="round" stroke-linecap="round">
<rect x="404.1" y="1444" width="20" height="31.2" rx="3"/>
<path d="M425.3,1447.5 C428,1446.3 431,1446 434,1446 H452 C456,1446 457.5,1449 456.5,1452.5 C460,1453.5 460.5,1458 458.5,1460 C461.5,1461.5 461.5,1466 459,1467.5 C461,1470 459.5,1473.3 456,1473.3 H442.5 C443.5,1478 443.5,1484 442,1488 C440.5,1492.5 436,1492.5 435,1489 C434.5,1484 432,1480.5 429.5,1477.5 C428,1475.5 427,1473.5 425.3,1472"/>
</g>
<text x="485.4" y="1266.4" textLength="161.6" lengthAdjust="spacingAndGlyphs" font-size="20.2" fill="#fbc23a" font-weight="bold" font-family='"Liberation Sans", sans-serif' stroke="#fbc23a" stroke-width="0.73" stroke-linejoin="round" >61% s’informent sur Internet</text>
<text x="485.4" y="1286.5" textLength="150.8" lengthAdjust="spacingAndGlyphs" font-size="20.2" fill="#fbc23a" font-weight="bold" font-family='"Liberation Sans", sans-serif' stroke="#fbc23a" stroke-width="0.73" stroke-linejoin="round" >pour préparer leurs achats</text>
<text x="483.8" y="1334.2" textLength="217.2" lengthAdjust="spacingAndGlyphs" font-size="20.4" fill="#fff" font-weight="bold" font-family='"Liberation Sans", sans-serif' stroke="#fff" stroke-width="0.73" stroke-linejoin="round" >41% des cyberacheteurs se rendent en</text>
<text x="483.8" y="1353.4" textLength="188.2" lengthAdjust="spacingAndGlyphs" font-size="20.4" fill="#fff" font-weight="bold" font-family='"Liberation Sans", sans-serif' stroke="#fff" stroke-width="0.73" stroke-linejoin="round" >magasin avant d’acheter en ligne</text>
<text x="484.4" y="1397.2" textLength="166.0" lengthAdjust="spacingAndGlyphs" font-size="19.8" fill="#fbc23a" font-weight="bold" font-family='"Liberation Sans", sans-serif' stroke="#fbc23a" stroke-width="0.71" stroke-linejoin="round" >26% attribuent des notes aux</text>
<text x="484.4" y="1416.5" textLength="94.4" lengthAdjust="spacingAndGlyphs" font-size="19.8" fill="#fbc23a" font-weight="bold" font-family='"Liberation Sans", sans-serif' stroke="#fbc23a" stroke-width="0.71" stroke-linejoin="round" >produits achetés</text>
<text x="484.4" y="1462.4" textLength="214.8" lengthAdjust="spacingAndGlyphs" font-size="18.8" fill="#fff" font-weight="bold" font-family='"Liberation Sans", sans-serif' stroke="#fff" stroke-width="0.68" stroke-linejoin="round" >20% utilisent les réseaux sociaux pour se</text>
<text x="484.4" y="1480.8" textLength="219.2" lengthAdjust="spacingAndGlyphs" font-size="18.8" fill="#fff" font-weight="bold" font-family='"Liberation Sans", sans-serif' stroke="#fff" stroke-width="0.68" stroke-linejoin="round" >plaindre et exprimer leur mécontentement</text>
<rect x="0" y="1513.3" width="347.2" height="9.3" fill="#fff" />
<rect x="351.3" y="1513.3" width="369.7" height="9.3" fill="#fdb515" />
<text x="8.3" y="1537.9" textLength="29.0" lengthAdjust="spacingAndGlyphs" font-size="10.6" fill="#fff" font-weight="bold" font-family='"Liberation Sans", sans-serif' stroke="#fff" stroke-width="0.15" stroke-linejoin="round" >Sources</text>
<text x="8.3" y="1551.6" textLength="167.8" lengthAdjust="spacingAndGlyphs" font-size="10" fill="#fff" font-weight="bold" font-family='"Liberation Sans", sans-serif' stroke="#fff" stroke-width="0.15" stroke-linejoin="round" >- Fevad - observatoire consommateur connecté</text>
<text x="8.3" y="1563.2" textLength="190.1" lengthAdjust="spacingAndGlyphs" font-size="10" fill="#fff" font-weight="bold" font-family='"Liberation Sans", sans-serif' stroke="#fff" stroke-width="0.15" stroke-linejoin="round" >- Credoc - enquêtes "conditions de vie et aspirations"</text>
<text x="8.3" y="1574.5" textLength="175.7" lengthAdjust="spacingAndGlyphs" font-size="10" fill="#fff" font-weight="bold" font-family='"Liberation Sans", sans-serif' stroke="#fff" stroke-width="0.15" stroke-linejoin="round" >- Les echos - une decennie de commerce en ligne</text>
<text x="8.3" y="1586.1" textLength="195.5" lengthAdjust="spacingAndGlyphs" font-size="10" fill="#fff" font-weight="bold" font-family='"Liberation Sans", sans-serif' stroke="#fff" stroke-width="0.15" stroke-linejoin="round" >- UPS - Comscore Etude d'une expérience dient - 2015</text>
<circle cx="348.7" cy="1558" r="9.3" fill="none" stroke="#fbbd2c" stroke-width="1.4" />
<path d="M353.3,1554.8A5.6,5.6 0 1 0 353.3,1561.2" fill="none" stroke="#fbbd2c" stroke-width="2.6"/>
<path d="M353.3,1554.8A5.6,5.6 0 1 0 353.3,1561.2" fill="none" stroke="#144e86" stroke-width="0.9"/>
<text x="367.6" y="1565.4" textLength="62.1" lengthAdjust="spacingAndGlyphs" font-size="16" fill="#fff" font-weight="bold" font-family='"Liberation Sans", sans-serif' stroke="#fff" stroke-width="0.5" stroke-linejoin="round" >LK CONSEIL</text>
<path d="M454.7,1566.5 C458,1567 461,1566 463,1564.3 C460,1564 458.5,1562.5 458,1561 C459,1561.2 460,1561.1 460.5,1560.8 C457.5,1559.8 456.5,1557.5 456.6,1555.5 C457.5,1556 458.5,1556.3 459.3,1556.3 C456.8,1554.3 456.5,1551.5 457.7,1549.7 C460.5,1553.3 464.5,1555.3 469.5,1555.5 C468.8,1552 471.5,1549.5 474.8,1549.5 C476.5,1549.5 478,1550.2 479,1551.3 C480.3,1551 481.5,1550.5 482.6,1549.9 C482.2,1551.3 481.3,1552.4 480.1,1553.1 C481.3,1553 482.4,1552.7 483.4,1552.2 C482.6,1553.4 481.6,1554.4 480.5,1555.2 C481,1563.5 474,1570.5 465,1570.5 C461,1570.5 457.5,1569.3 454.7,1566.5Z" fill="#fdb71c"/>
<text x="490.2" y="1565.6" textLength="67.1" lengthAdjust="spacingAndGlyphs" font-size="16" fill="#fff" font-weight="bold" font-family='"Liberation Sans", sans-serif' stroke="#fff" stroke-width="0.5" stroke-linejoin="round" >@LKConseil</text>
<g fill="none" stroke="#fbbd2c" stroke-width="1.1"><circle cx="598.5" cy="1559" r="9.6"/><ellipse cx="598.5" cy="1559" rx="4.6" ry="9.6"/><path d="M589,1559H608M598.5,1549.4V1568.6M590.8,1553.5H606.2M590.8,1564.5H606.2"/><ellipse cx="597.8" cy="1558.8" rx="13.2" ry="6.6" transform="rotate(-38 597.8 1558.8)" stroke-dasharray="56 8"/></g>
<text x="617.9" y="1565.6" textLength="89.9" lengthAdjust="spacingAndGlyphs" font-size="16" fill="#fff" font-weight="bold" font-family='"Liberation Sans", sans-serif' stroke="#fff" stroke-width="0.5" stroke-linejoin="round" >www.lkconseil.fr</text>
<rect x="0" y="1598" width="721" height="2" fill="#fff" />
</svg></body></html>
